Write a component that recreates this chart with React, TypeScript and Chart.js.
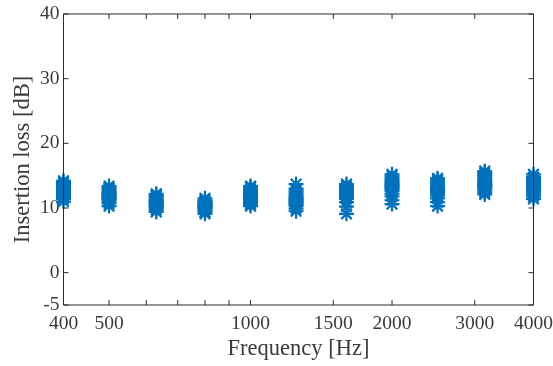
import { useEffect, useRef } from "react";
import { Chart, registerables } from "chart.js";

Chart.register(...registerables);

const frequencies = [400, 500, 630, 800, 1000, 1250, 1600, 2000, 2500, 3150, 4000];

const il400 = [11.0, 11.4, 11.7, 12.0, 12.2, 12.4, 12.5, 12.7, 12.9, 13.0, 13.2, 13.4, 13.6, 13.9, 14.2, 12.1, 12.8];
const il500 = [10.3, 10.7, 11.0, 11.3, 11.5, 11.7, 11.9, 12.0, 12.2, 12.4, 12.6, 12.9, 13.1, 13.4, 11.6, 12.3];
const il630 = [9.4, 9.7, 10.0, 10.2, 10.4, 10.6, 10.8, 10.9, 11.1, 11.3, 11.5, 11.8, 12.0, 12.2, 10.5, 11.0];
const il800 = [9.1, 9.4, 9.7, 9.9, 10.1, 10.3, 10.4, 10.6, 10.8, 11.0, 11.2, 11.5, 10.2, 10.7];
const il1000 = [10.3, 10.6, 10.9, 11.1, 11.3, 11.5, 11.7, 11.9, 12.1, 12.3, 12.6, 12.9, 13.2, 13.4, 11.6, 12.0];
const il1250 = [9.5, 9.9, 10.3, 10.6, 10.9, 11.1, 11.3, 11.6, 11.8, 12.1, 12.4, 12.7, 13.0, 13.7, 10.7, 11.4];
const il1600 = [9.1, 10.2, 10.9, 11.4, 11.7, 11.9, 12.1, 12.3, 12.5, 12.7, 12.9, 13.1, 13.4, 13.7, 12.0, 12.6];
const il2000 = [10.6, 11.2, 11.8, 12.2, 12.6, 12.9, 13.1, 13.4, 13.6, 13.8, 14.0, 14.3, 14.6, 14.9, 15.2, 13.3];
const il2500 = [10.3, 10.9, 11.5, 11.9, 12.2, 12.5, 12.7, 12.9, 13.1, 13.3, 13.5, 13.8, 14.1, 14.4, 14.6, 12.8];
const il3150 = [12.1, 12.4, 12.7, 13.0, 13.2, 13.4, 13.6, 13.8, 14.0, 14.2, 14.5, 14.8, 15.1, 15.4, 15.7, 13.5];
const il4000 = [11.4, 11.8, 12.1, 12.4, 12.7, 12.9, 13.1, 13.3, 13.5, 13.7, 13.9, 14.2, 14.5, 14.8, 15.2, 13.2];

const insertionLoss = [il400, il500, il630, il800, il1000, il1250, il1600, il2000, il2500, il3150, il4000];

const xTickValues = [400, 500, 600, 700, 800, 900, 1000, 1500, 2000, 3000, 4000];
const xTickLabels = [400, 500, 1000, 1500, 2000, 3000, 4000];
const yTickValues = [-5, 0, 10, 20, 30, 40];

const AXIS_COLOR = "#2b2b2b";
const TEXT_COLOR = "#3a3a3a";
const MARKER_COLOR = "#0072BD";
const FONT = "'Liberation Serif', 'Times New Roman', serif";

const framePlugin = {
  id: "matlabFrame",
  afterDatasetsDraw(chart: any) {
    const { ctx, chartArea, scales } = chart;
    const { left, right, top, bottom } = chartArea;
    const tick = 5;
    ctx.save();
    ctx.strokeStyle = AXIS_COLOR;
    ctx.lineWidth = 1;
    ctx.beginPath();
    ctx.rect(left, top, right - left, bottom - top);
    ctx.stroke();
    ctx.beginPath();
    for (const v of xTickValues) {
      const px = scales.x.getPixelForValue(v);
      ctx.moveTo(px, bottom);
      ctx.lineTo(px, bottom - tick);
      ctx.moveTo(px, top);
      ctx.lineTo(px, top + tick);
    }
    for (const v of yTickValues) {
      const py = scales.y.getPixelForValue(v);
      ctx.moveTo(left, py);
      ctx.lineTo(left + tick, py);
      ctx.moveTo(right, py);
      ctx.lineTo(right - tick, py);
    }
    ctx.stroke();
    ctx.restore();
  },
};

export default function App() {
  const canvasRef = useRef<HTMLCanvasElement | null>(null);

  useEffect(() => {
    if (!canvasRef.current) return;
    const points: { x: number; y: number }[] = [];
    frequencies.forEach((f, i) => {
      insertionLoss[i].forEach((v) => points.push({ x: f, y: v }));
    });

    const chart = new Chart(canvasRef.current, {
      type: "scatter",
      data: {
        datasets: [
          {
            data: points,
            pointStyle: "star",
            pointRadius: 7.5,
            pointBorderWidth: 2.2,
            borderColor: MARKER_COLOR,
            backgroundColor: MARKER_COLOR,
            pointHoverRadius: 7.5,
            clip: false as any,
          },
        ],
      },
      plugins: [framePlugin],
      options: {
        animation: false,
        responsive: false,
        maintainAspectRatio: false,
        events: [],
        layout: { padding: { left: 0, top: 14, right: 19.5, bottom: 0 } },
        plugins: { legend: { display: false }, tooltip: { enabled: false } },
        scales: {
          x: {
            type: "logarithmic",
            min: 400,
            max: 4000,
            grid: { display: false, drawTicks: false },
            border: { display: false },
            afterBuildTicks: (scale: any) => {
              scale.ticks = xTickValues.map((v) => ({ value: v }));
            },
            afterFit: (scale: any) => {
              scale.height = 61;
              scale.paddingLeft = 0;
              scale.paddingRight = 0;
            },
            ticks: {
              autoSkip: false,
              maxRotation: 0,
              minRotation: 0,
              padding: 7,
              color: TEXT_COLOR,
              font: { family: FONT, size: 19.5 },
              callback: (value: any) => (xTickLabels.includes(Number(value)) ? String(value) : ""),
            },
            title: {
              display: true,
              text: "Frequency [Hz]",
              color: TEXT_COLOR,
              font: { family: FONT, size: 22.5 },
              padding: { top: 0, bottom: 3 },
            },
          },
          y: {
            type: "linear",
            min: -5,
            max: 40,
            grid: { display: false, drawTicks: false },
            border: { display: false },
            afterBuildTicks: (scale: any) => {
              scale.ticks = yTickValues.map((v) => ({ value: v }));
            },
            afterFit: (scale: any) => {
              scale.width = 63.5;
              scale.paddingTop = 0;
              scale.paddingBottom = 0;
            },
            ticks: {
              padding: 4,
              color: TEXT_COLOR,
              font: { family: FONT, size: 19.5 },
              callback: (value: any) => String(value),
            },
            title: {
              display: true,
              text: "Insertion loss [dB]",
              color: TEXT_COLOR,
              font: { family: FONT, size: 22.5 },
              padding: { top: 10, bottom: 0 },
            },
          },
        },
      },
    });
    return () => chart.destroy();
  }, []);

  return (
    <div style={{ position: "fixed", left: 0, top: 0, width: 553, height: 366, background: "#fff", overflow: "hidden" }}>
      <canvas ref={canvasRef} width={553} height={366} style={{ width: 553, height: 366, display: "block" }} />
    </div>
  );
}
